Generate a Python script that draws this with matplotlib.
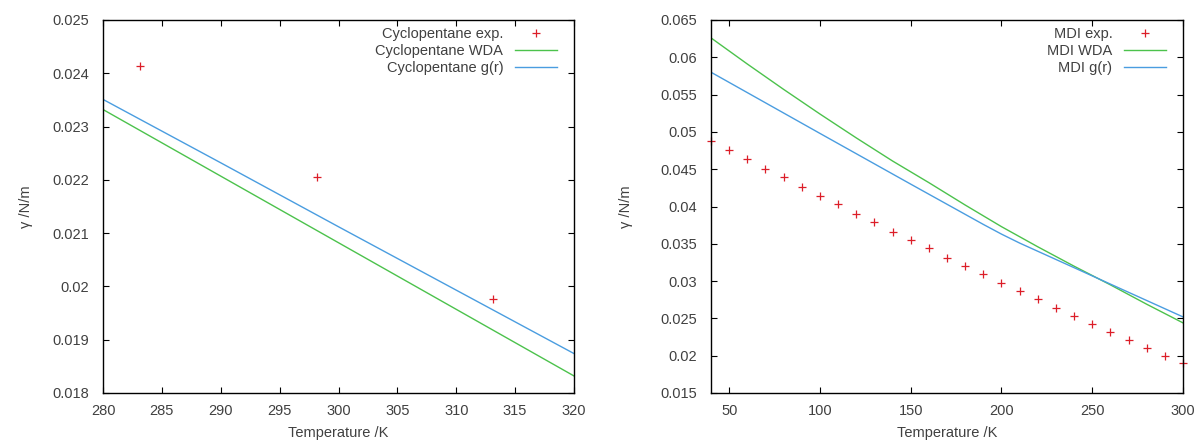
import matplotlib
matplotlib.use('Agg')
import matplotlib.pyplot as plt
from matplotlib.ticker import FormatStrFormatter, MultipleLocator

# cyclopentane
cp_exp_t = [283.15, 298.15, 313.15]
cp_exp_g = [0.02414, 0.02205, 0.01976]
cp_wda_t = [280, 290, 300, 310, 320]
cp_wda_g = [0.02332, 0.02207, 0.02082, 0.01957, 0.01832]
cp_gr_t = [280, 290, 300, 310, 320]
cp_gr_g = [0.02351, 0.02232, 0.02112, 0.01993, 0.01874]

# MDI
mdi_exp_t = [40, 50, 60, 70, 80, 90, 100, 110, 120, 130, 140, 150, 160, 170,
             180, 190, 200, 210, 220, 230, 240, 250, 260, 270, 280, 290, 300]
mdi_exp_g = [0.04882, 0.04757, 0.04633, 0.04507, 0.04391, 0.04266, 0.04141,
             0.04029, 0.03904, 0.03788, 0.03664, 0.03551, 0.03440, 0.03314,
             0.03202, 0.03091, 0.02979, 0.02867, 0.02756, 0.02635, 0.02536,
             0.02425, 0.02314, 0.02210, 0.02103, 0.02000, 0.01898]
mdi_wda_t = [40, 60, 80, 100, 120, 140, 160, 180, 200, 220, 240, 260, 280, 300]
mdi_wda_g = [0.0626, 0.0591, 0.0557, 0.0524, 0.0492, 0.0461, 0.0432, 0.0402,
             0.0373, 0.0346, 0.0320, 0.0295, 0.0269, 0.0244]
mdi_gr_t = [40, 100, 150, 190, 200, 210, 250, 300]
mdi_gr_g = [0.0580, 0.0498, 0.0430, 0.0376, 0.0363, 0.0351, 0.0307, 0.0252]

RED = '#dc1e28'
GREEN = '#4cc24c'
BLUE = '#4a9de0'
TXT = '#404040'
FS = 10.5

plt.rcParams['font.family'] = ['Liberation Sans', 'DejaVu Sans']
plt.rcParams['font.size'] = FS

fig = plt.figure(figsize=(11.98, 4.45), dpi=100)
W, H = 1198.0, 445.0
ax1 = fig.add_axes([103 / W, (H - 393) / H, 471 / W, 373 / H])
ax2 = fig.add_axes([711 / W, (H - 393) / H, 472 / W, 373 / H])


def style(ax):
    for s in ax.spines.values():
        s.set_linewidth(1.0)
        s.set_color('black')
    ax.tick_params(direction='in', top=True, right=True, length=4, width=0.8,
                   labelcolor=TXT, labelsize=FS)
    ax.tick_params(axis='x', pad=8)
    ax.tick_params(axis='y', pad=10)
    ax.yaxis.set_major_formatter(FormatStrFormatter('%g'))
    ax.xaxis.set_major_formatter(FormatStrFormatter('%g'))
    ax.set_xlabel('Temperature /K', color=TXT, fontsize=FS)
    ax.xaxis.set_label_coords(0.5, -0.088)


ax1.plot(cp_exp_t, cp_exp_g, '+', color=RED, ms=5.5, mew=0.9, label='Cyclopentane exp.')
ax1.plot(cp_wda_t, cp_wda_g, color=GREEN, lw=1.0, label='Cyclopentane WDA')
ax1.plot(cp_gr_t, cp_gr_g, color=BLUE, lw=1.0, label='Cyclopentane g(r)')
ax1.set_xlim(280, 320)
ax1.set_ylim(0.018, 0.025)
ax1.xaxis.set_major_locator(MultipleLocator(5))
ax1.yaxis.set_major_locator(MultipleLocator(0.001))
style(ax1)
ax1.set_ylabel('γ /N/m', color=TXT, fontsize=FS)
ax1.yaxis.set_label_coords(-0.149, 0.5)

ax2.plot(mdi_exp_t, mdi_exp_g, '+', color=RED, ms=5.5, mew=0.9, label='MDI exp.', clip_on=False)
ax2.plot(mdi_wda_t, mdi_wda_g, color=GREEN, lw=1.0, label='MDI WDA')
ax2.plot(mdi_gr_t, mdi_gr_g, color=BLUE, lw=1.0, label='MDI g(r)')
ax2.set_xlim(40, 300)
ax2.set_ylim(0.015, 0.065)
ax2.set_xticks([50, 100, 150, 200, 250, 300])
ax2.yaxis.set_major_locator(MultipleLocator(0.005))
style(ax2)
ax2.set_ylabel('γ /N/m', color=TXT, fontsize=FS)
ax2.yaxis.set_label_coords(-0.165, 0.5)

for ax in (ax1, ax2):
    leg = ax.legend(loc='upper right', bbox_to_anchor=(0.98, 1.0), frameon=False,
                    markerfirst=False, handlelength=2.9, handletextpad=0.8,
                    labelspacing=0.2, borderaxespad=0.1, fontsize=FS)
    for t in leg.get_texts():
        t.set_color(TXT)

plt.savefig('out.png', dpi=100)
